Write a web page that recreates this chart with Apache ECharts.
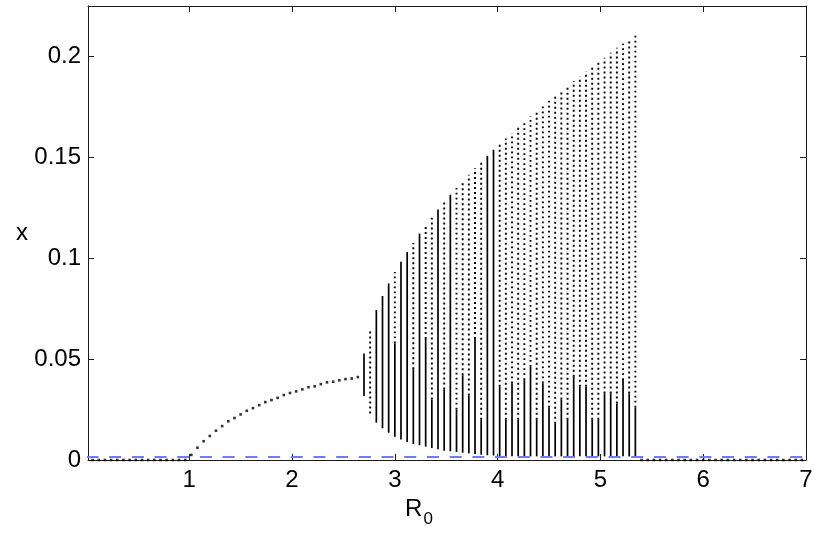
<!DOCTYPE html>
<html><head><meta charset="utf-8">
<script src="https://cdn.jsdelivr.net/npm/echarts@6/dist/echarts.min.js"></script>
<style>html,body{margin:0;padding:0;background:#fff}#c{width:822px;height:536px}</style>
</head><body><div id="c"></div>
<script>
// x-axis tick labels and y-axis tick labels
const xTicks = [1, 2, 3, 4, 5, 6, 7];
const yTicks = [0, 0.05, 0.1, 0.15, 0.2];

// Trivial equilibrium points (x = 0) on both sides
const zeroLeftR0 = [0.00,0.06,0.12,0.18,0.24,0.30,0.36,0.42,0.48,0.54,0.60,0.66,0.72,0.78,0.84,0.90,0.96];
const zeroRightR0 = [5.40,5.46,5.52,5.58,5.64,5.70,5.76,5.82,5.88,5.94,6.00,6.06,6.12,6.18,6.24,6.30,6.36,6.42,6.48,6.54,6.60,6.66,6.72,6.78,6.84,6.90,6.96];

// Stable endemic equilibrium branch
const eqR0 = [1.02,1.08,1.14,1.20,1.26,1.32,1.38,1.44,1.50,1.56,1.62,1.68,1.74,1.80,1.86,1.92,1.98,2.04,2.10,2.16,2.22,2.28,2.34,2.40,2.46,2.52,2.58,2.64];
const eqX  = [0.0025,0.0061,0.0093,0.0119,0.0145,0.0168,0.0192,0.0208,0.0226,0.0244,0.0257,0.0272,0.0287,0.0297,0.0308,0.0322,0.0332,0.0340,0.0350,0.0361,0.0365,0.0376,0.0385,0.0388,0.0395,0.0401,0.0404,0.0411];

// Oscillatory regime: per-R0 column, lowest value, top of the dense band, highest value
const colR0 = [2.70,2.76,2.82,2.88,2.94,3.00,3.06,3.12,3.18,3.24,3.30,3.36,3.42,3.48,3.54,3.60,3.66,3.72,3.78,3.84,3.90,3.96,4.02,4.08,4.14,4.20,4.26,4.32,4.38,4.44,4.50,4.56,4.62,4.68,4.74,4.80,4.86,4.92,4.98,5.04,5.10,5.16,5.22,5.28,5.34];
const colLow = [0.0317,0.0231,0.0185,0.0157,0.0135,0.0115,0.0102,0.0089,0.0079,0.0073,0.0066,0.0059,0.0053,0.0046,0.0043,0.0040,0.0036,0.0033,0.0030,0.0026,0.0023,0.0022,0.0020,0.0020,0.0019,0.0019,0.0018,0.0018,0.0018,0.0018,0.0018,0.0018,0.0018,0.0018,0.0018,0.0018,0.0018,0.0018,0.0018,0.0018,0.0018,0.0018,0.0018,0.0018,0.0018];
const colDense = [0.0528,0.0231,0.0743,0.0813,0.0875,0.0578,0.0982,0.1031,0.0450,0.1122,0.0600,0.0300,0.1241,0.0350,0.1315,0.0250,0.0420,0.0320,0.0600,0.0200,0.1508,0.1538,0.0363,0.0200,0.0380,0.0200,0.0396,0.0462,0.0200,0.0380,0.0260,0.0180,0.0300,0.0200,0.0413,0.0363,0.0363,0.0200,0.0200,0.0330,0.0330,0.0280,0.0396,0.0330,0.0260];
const colHigh = [0.0528,0.0652,0.0743,0.0813,0.0875,0.0932,0.0982,0.1031,0.1076,0.1122,0.1163,0.1201,0.1241,0.1279,0.1315,0.1348,0.1381,0.1414,0.1446,0.1475,0.1508,0.1538,0.1568,0.1593,0.1620,0.1647,0.1678,0.1704,0.1729,0.1752,0.1782,0.1805,0.1828,0.1853,0.1878,0.1901,0.1926,0.1947,0.1972,0.1994,0.2018,0.2043,0.2063,0.2088,0.2109];

// Unstable trivial equilibrium (blue dashed)
const blueR0 = [0, 7];
const blueX = [0.0015, 0.0015];

const FONT = 'Liberation Sans, Arial, Helvetica, sans-serif';
const chart = echarts.init(document.getElementById('c'), null, {renderer: 'canvas'});

const colData = colR0.map((r, i) => [r, colLow[i], colDense[i], colHigh[i]]);

const axisBase = {
  axisLine: {show: true, onZero: false, lineStyle: {color: '#1a1a1a', width: 1}},
  splitLine: {show: false}
};

chart.setOption({
  animation: false,
  backgroundColor: '#fff',
  grid: {left: 88, right: 16, top: 6, bottom: 76},
  xAxis: [
    Object.assign({}, axisBase, {
      type: 'value', min: 0.015, max: 7, position: 'bottom',
      axisTick: {show: true, inside: true, length: 6, customValues: xTicks, lineStyle: {color: '#1a1a1a'}},
      axisLabel: {customValues: xTicks, color: '#000', fontSize: 24, fontFamily: FONT, margin: 8},
      name: '{r|R}{s|0}', nameLocation: 'middle', nameGap: 36,
      nameTextStyle: {color: '#000', fontFamily: FONT, padding: [0, 56, 0, 0],
        rich: {r: {fontSize: 24, fontFamily: FONT, color: '#000', verticalAlign: 'top', lineHeight: 24},
               s: {fontSize: 17, fontFamily: FONT, color: '#000', verticalAlign: 'top', lineHeight: 17, padding: [14, 0, 0, 1]}}}
    }),
    Object.assign({}, axisBase, {
      type: 'value', min: 0.015, max: 7, position: 'top',
      axisTick: {show: true, inside: true, length: 6, customValues: xTicks, lineStyle: {color: '#1a1a1a'}},
      axisLabel: {show: false}
    })
  ],
  yAxis: [
    Object.assign({}, axisBase, {
      type: 'value', min: 0, max: 0.225, position: 'left',
      axisTick: {show: true, inside: true, length: 6, customValues: yTicks, lineStyle: {color: '#1a1a1a'}},
      axisLabel: {customValues: yTicks, color: '#000', fontSize: 24, fontFamily: FONT, margin: 7,
        formatter: v => String(+v.toFixed(2))},
      name: 'x', nameLocation: 'middle', nameRotate: 0, nameGap: 60,
      nameTextStyle: {color: '#000', fontSize: 24, fontFamily: FONT}
    }),
    Object.assign({}, axisBase, {
      type: 'value', min: 0, max: 0.225, position: 'right',
      axisTick: {show: true, inside: true, length: 6, customValues: yTicks, lineStyle: {color: '#1a1a1a'}},
      axisLabel: {show: false}
    })
  ],
  series: [
    {
      type: 'custom', xAxisIndex: 0, yAxisIndex: 0, clip: true,
      data: colData,
      encode: {x: 0, y: [1, 2, 3]},
      renderItem: function (params, api) {
        const x = api.value(0), lo = api.value(1), dn = api.value(2), hi = api.value(3);
        const pLo = api.coord([x, lo]), pDn = api.coord([x, dn]), pHi = api.coord([x, hi]);
        const children = [];
        if (hi > dn) children.push({type: 'line', shape: {x1: pDn[0], y1: pDn[1], x2: pHi[0], y2: pHi[1]},
          style: {stroke: '#000', lineWidth: 1.9, lineDash: [1.9, 3.1], lineCap: 'butt'}});
        if (dn > lo) children.push({type: 'line', shape: {x1: pLo[0], y1: pLo[1], x2: pDn[0], y2: pDn[1]},
          style: {stroke: '#000', lineWidth: 1.7}});
        return {type: 'group', children: children};
      }
    },
    {
      type: 'scatter', symbol: 'rect', symbolSize: 2.6, itemStyle: {color: '#000'},
      data: eqR0.map((r, i) => [r, eqX[i]])
    },
    {
      type: 'scatter', symbol: 'rect', symbolSize: 2.6, itemStyle: {color: '#000'},
      data: zeroLeftR0.concat(zeroRightR0).map(r => [r, 0])
    },
    {
      type: 'line', showSymbol: false, symbol: 'none', clip: true,
      lineStyle: {color: '#6a7df2', width: 2, type: [12, 10.7]},
      data: blueR0.map((r, i) => [r, blueX[i]]),
      z: 5
    }
  ]
});
</script>
</body></html>
